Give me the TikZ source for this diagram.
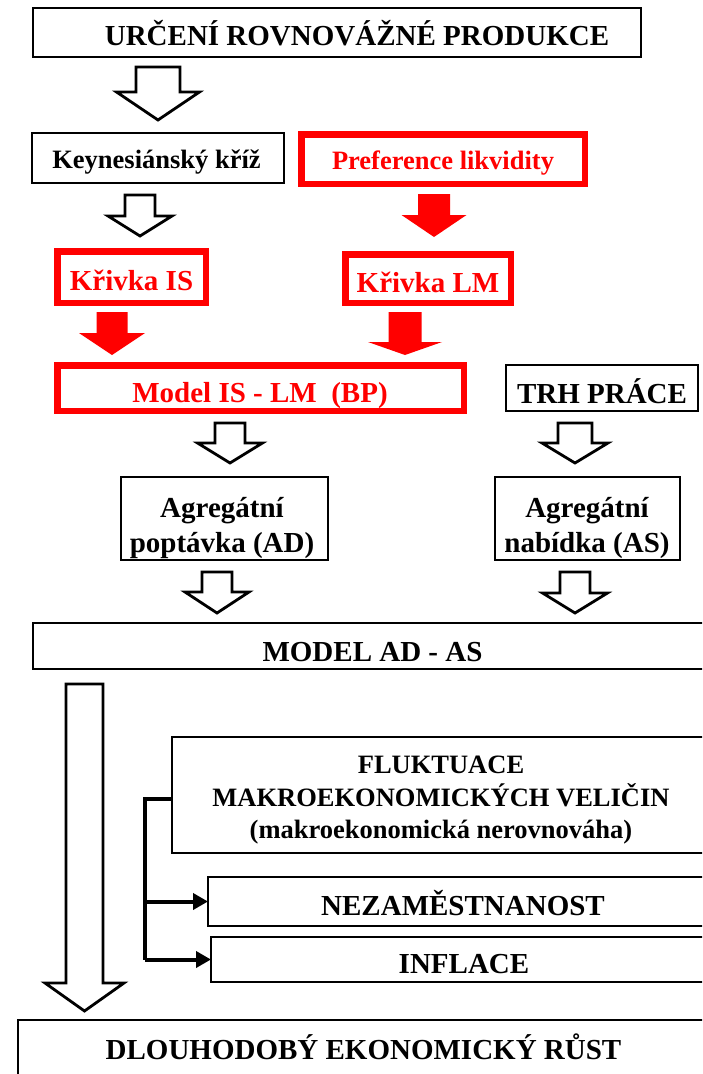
\documentclass[tikz,border=0pt]{standalone}
\usepackage{fontspec}
\setmainfont{Liberation Serif}
\usetikzlibrary{arrows.meta}
\definecolor{pred}{RGB}{255,0,0}
\newcommand\blkarrow[7][]{\draw[#1] ({#2-#6},#3) -- ({#2+#6},#3) -- ({#2+#6},#4) -- ({#2+#7},#4) -- (#2,#5) -- ({#2-#7},#4) -- ({#2-#6},#4) -- cycle;}
\begin{document}
\begin{tikzpicture}[x=1pt,y=-1pt,
  bbox/.style={draw=black,line width=1.5pt,inner sep=0pt,outer sep=0pt},
  rbox/.style={draw=pred,line width=6.5pt,inner sep=0pt,outer sep=0pt},
  tbig/.style={font=\fontsize{29}{35}\selectfont\bfseries,anchor=base,inner sep=0pt},
  tmid/.style={font=\fontsize{26.5}{32}\selectfont\bfseries,anchor=base,inner sep=0pt},
  harrow/.style={draw=black,line width=2.8pt,fill=white,line join=miter},
  rarrow/.style={fill=pred,draw=none},
  brline/.style={line width=4pt,line join=miter},
  brarrow/.style={line width=4pt,-{Triangle[length=15pt,width=16pt]}}
]
\useasboundingbox (0,0) rectangle (702,1074);
\clip (0,0) rectangle (702,1074);
% boxes
\node[bbox,minimum width=608pt,minimum height=49pt] (title) at (337,32.5) {};
\node[bbox,minimum width=252pt,minimum height=50pt] (keyn) at (158,158) {};
\node[rbox,minimum width=283.5pt,minimum height=49.5pt] (pref) at (443,159) {};
\node[rbox,minimum width=148.5pt,minimum height=51.5pt] (kis) at (131.5,277) {};
\node[rbox,minimum width=165.5pt,minimum height=48.5pt] (klm) at (428,278.5) {};
\node[rbox,minimum width=406.5pt,minimum height=45.5pt] (islm) at (260.5,388) {};
\node[bbox,minimum width=192pt,minimum height=46pt] (trh) at (602,388) {};
\node[bbox,minimum width=207pt,minimum height=83pt] (ad) at (224.5,518.5) {};
\node[bbox,minimum width=185pt,minimum height=83pt] (as) at (587.5,518.5) {};
\node[bbox,minimum width=697pt,minimum height=46pt] (adas) at (381.5,646) {};
\node[bbox,minimum width=558pt,minimum height=116pt] (fluk) at (451,795) {};
\node[bbox,minimum width=522pt,minimum height=49pt] (nez) at (469,901.5) {};
\node[bbox,minimum width=519pt,minimum height=45pt] (infl) at (470.5,959.5) {};
\node[bbox,minimum width=712pt,minimum height=80pt] (dlou) at (374,1060) {};
% texts
\node[tbig] (t1) at (357,45) {URČENÍ ROVNOVÁŽNÉ PRODUKCE};
\node[tmid] (t2) at (156.5,168) {Keynesiánský kříž};
\node[tmid,text=pred] (t3) at (443,169) {Preference likvidity};
\node[tbig,text=pred] (t4) at (131.5,290) {Křivka IS};
\node[tbig,text=pred] (t5) at (428,292) {Křivka LM};
\node[tbig,text=pred] (t6) at (260,402) {Model IS - LM~~(BP)};
\node[tbig] (t7) at (602,403) {TRH PRÁCE};
\node[tbig] (t8a) at (222,517) {Agregátní};
\node[tbig] (t8b) at (222,552) {poptávka (AD)};
\node[tbig] (t9a) at (587,517) {Agregátní};
\node[tbig] (t9b) at (587,552) {nabídka (AS)};
\node[tbig] (t10) at (372.5,661) {MODEL AD - AS};
\node[tmid] (t11a) at (441,773) {FLUKTUACE};
\node[tmid] (t11b) at (441,806) {MAKROEKONOMICKÝCH VELIČIN};
\node[tmid] (t11c) at (441,838) {(makroekonomická nerovnováha)};
\node[tbig] (t12) at (463,915) {NEZAMĚSTNANOST};
\node[tbig] (t13) at (464,973) {INFLACE};
\node[tbig] (t14) at (363.5,1059) {DLOUHODOBÝ EKONOMICKÝ RŮST};
% block arrows
\blkarrow[harrow]{158}{67}{92}{120}{22}{41.5}
\blkarrow[harrow]{140}{195}{216}{236}{15}{32}
\blkarrow[rarrow]{434}{194}{215}{237}{16}{32.5}
\blkarrow[rarrow]{112}{312}{333}{355}{15.5}{33}
\blkarrow[rarrow]{405}{312}{342}{355}{16.5}{37}
\blkarrow[harrow]{230}{423}{443}{463}{15}{32.5}
\blkarrow[harrow]{575}{423}{443}{463}{17}{33}
\blkarrow[harrow]{217}{572}{592}{613}{15}{32}
\blkarrow[harrow]{575}{572}{593}{613}{15}{32.5}
\blkarrow[harrow]{84.5}{684}{983}{1011}{18.5}{39.5}
% bracket connector
\coordinate (br) at (145,799);
\draw[brline] (fluk.west |- br) -- (br) -- (br |- infl.west);
\draw[brarrow] (br |- nez.west) -- (nez.west);
\draw[brarrow] (br |- infl.west) -- (infl.west);
\end{tikzpicture}
\end{document}
